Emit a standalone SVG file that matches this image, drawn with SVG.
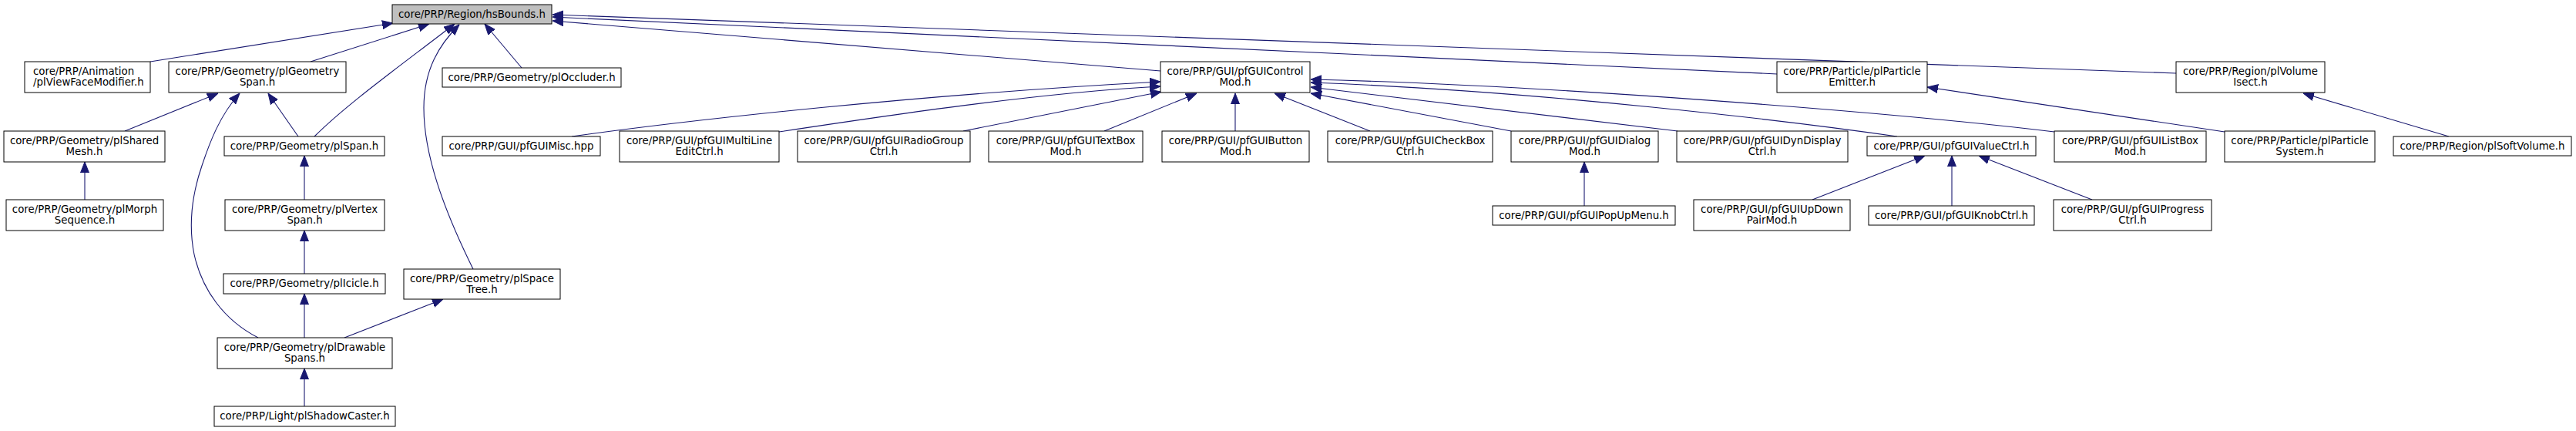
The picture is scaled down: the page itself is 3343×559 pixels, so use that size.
<svg xmlns="http://www.w3.org/2000/svg" width="3343" height="559" viewBox="0 0 3343 559">
<style>
.n rect{fill:#fff;stroke:#000;stroke-width:1}
.n text{font-family:"DejaVu Sans",sans-serif;font-size:13.33px;fill:#000;text-anchor:middle}
#root rect{fill:#bfbfbf}
.e path{fill:none;stroke:#191970;stroke-width:1.1;marker-end:url(#ah)}
</style>
<defs>
<marker id="ah" viewBox="0 0 14 12" refX="14" refY="6" markerWidth="14" markerHeight="12" markerUnits="userSpaceOnUse" orient="auto">
<path d="M0,0.5 L14,6 L0,11.5 Z" fill="#191970" stroke="#191970" stroke-width="1"/>
</marker>
</defs>
<rect width="3343" height="559" fill="#fff"/>
<g class="e" id="edges">
<path d="M195,80 L510,30"/>
<path d="M403,80 L557,31"/>
<path d="M408,177 C450,135 520,85 590,31"/>
<path d="M614,349 C575,270 550,200 550,140 C550,90 570,58 596,32"/>
<path d="M677,88 L629,31"/>
<path d="M1506,92 L717,27"/>
<path d="M2306,96 L717,22"/>
<path d="M2824,95 L717,19"/>
<path d="M742,177 C900,155 1200,122 1506,106"/>
<path d="M1011,171 C1150,150 1350,120 1506,112"/>
<path d="M1250,170 L1507,119"/>
<path d="M1433,170 L1553,121"/>
<path d="M1603,170 L1603,121"/>
<path d="M1778,170 L1654,121"/>
<path d="M1961,170 L1701,121"/>
<path d="M2177,170 L1701,113"/>
<path d="M2462,177 C2330,158 2000,118 1701,107"/>
<path d="M2666,171 C2450,145 2000,110 1701,103"/>
<path d="M2887,171 L2501,113"/>
<path d="M3178,177 L2989,121"/>
<path d="M162,170 L283,121"/>
<path d="M335,438 C290,415 262,375 252,330 C244,290 250,250 262,215 C272,185 285,150 311,121"/>
<path d="M387,177 L348,121"/>
<path d="M395,259 L395,202"/>
<path d="M395,355 L395,299"/>
<path d="M395,438 L395,381"/>
<path d="M395,527 L395,478"/>
<path d="M447,438 L575,388"/>
<path d="M110,259 L110,210"/>
<path d="M2056,267 L2056,210"/>
<path d="M2352,259 L2498,202"/>
<path d="M2533,267 L2533,202"/>
<path d="M2715,259 L2568,202"/>
</g>
<g class="n" id="root"><rect x="509" y="6" width="207" height="25"/><text x="612.5" y="22.5">core/PRP/Region/hsBounds.h</text></g>
<g class="n" id="animation"><rect x="32" y="80" width="163" height="40"/><text x="43" y="96.7" style="text-anchor:start">core/PRP/Animation</text><text x="43" y="111.3" style="text-anchor:start">/plViewFaceModifier.h</text></g>
<g class="n" id="geomspan"><rect x="219" y="80" width="230" height="40"/><text x="334" y="96.7">core/PRP/Geometry/plGeometry</text><text x="334" y="111.3">Span.h</text></g>
<g class="n" id="occluder"><rect x="574" y="88" width="232" height="25"/><text x="690" y="104.5">core/PRP/Geometry/plOccluder.h</text></g>
<g class="n" id="guicontrol"><rect x="1506" y="80" width="194" height="40"/><text x="1603" y="96.7">core/PRP/GUI/pfGUIControl</text><text x="1603" y="111.3">Mod.h</text></g>
<g class="n" id="particleemitter"><rect x="2306" y="80" width="195" height="40"/><text x="2403.5" y="96.7">core/PRP/Particle/plParticle</text><text x="2403.5" y="111.3">Emitter.h</text></g>
<g class="n" id="volumeisect"><rect x="2824" y="80" width="193" height="40"/><text x="2920.5" y="96.7">core/PRP/Region/plVolume</text><text x="2920.5" y="111.3">Isect.h</text></g>
<g class="n" id="sharedmesh"><rect x="5" y="170" width="209" height="40"/><text x="109.5" y="186.7">core/PRP/Geometry/plShared</text><text x="109.5" y="201.3">Mesh.h</text></g>
<g class="n" id="plspan"><rect x="291" y="177" width="208" height="25"/><text x="395" y="193.5">core/PRP/Geometry/plSpan.h</text></g>
<g class="n" id="guimisc"><rect x="574" y="177" width="205" height="25"/><text x="676.5" y="193.5">core/PRP/GUI/pfGUIMisc.hpp</text></g>
<g class="n" id="multiline"><rect x="804" y="170" width="207" height="40"/><text x="907.5" y="186.7">core/PRP/GUI/pfGUIMultiLine</text><text x="907.5" y="201.3">EditCtrl.h</text></g>
<g class="n" id="radiogroup"><rect x="1035" y="170" width="224" height="40"/><text x="1147" y="186.7">core/PRP/GUI/pfGUIRadioGroup</text><text x="1147" y="201.3">Ctrl.h</text></g>
<g class="n" id="textbox"><rect x="1283" y="170" width="200" height="40"/><text x="1383" y="186.7">core/PRP/GUI/pfGUITextBox</text><text x="1383" y="201.3">Mod.h</text></g>
<g class="n" id="button"><rect x="1508" y="170" width="191" height="40"/><text x="1603.5" y="186.7">core/PRP/GUI/pfGUIButton</text><text x="1603.5" y="201.3">Mod.h</text></g>
<g class="n" id="checkbox"><rect x="1723" y="170" width="214" height="40"/><text x="1830" y="186.7">core/PRP/GUI/pfGUICheckBox</text><text x="1830" y="201.3">Ctrl.h</text></g>
<g class="n" id="dialog"><rect x="1961" y="170" width="191" height="40"/><text x="2056.5" y="186.7">core/PRP/GUI/pfGUIDialog</text><text x="2056.5" y="201.3">Mod.h</text></g>
<g class="n" id="dyndisplay"><rect x="2176" y="170" width="222" height="40"/><text x="2287" y="186.7">core/PRP/GUI/pfGUIDynDisplay</text><text x="2287" y="201.3">Ctrl.h</text></g>
<g class="n" id="valuectrl"><rect x="2423" y="177" width="219" height="25"/><text x="2532.5" y="193.5">core/PRP/GUI/pfGUIValueCtrl.h</text></g>
<g class="n" id="listbox"><rect x="2666" y="170" width="197" height="40"/><text x="2764.5" y="186.7">core/PRP/GUI/pfGUIListBox</text><text x="2764.5" y="201.3">Mod.h</text></g>
<g class="n" id="particlesystem"><rect x="2887" y="170" width="195" height="40"/><text x="2984.5" y="186.7">core/PRP/Particle/plParticle</text><text x="2984.5" y="201.3">System.h</text></g>
<g class="n" id="softvolume"><rect x="3106" y="177" width="231" height="25"/><text x="3221.5" y="193.5">core/PRP/Region/plSoftVolume.h</text></g>
<g class="n" id="morph"><rect x="8" y="259" width="204" height="40"/><text x="110" y="275.7">core/PRP/Geometry/plMorph</text><text x="110" y="290.3">Sequence.h</text></g>
<g class="n" id="vertexspan"><rect x="292" y="259" width="207" height="40"/><text x="395.5" y="275.7">core/PRP/Geometry/plVertex</text><text x="395.5" y="290.3">Span.h</text></g>
<g class="n" id="popup"><rect x="1937" y="267" width="237" height="25"/><text x="2055.5" y="283.5">core/PRP/GUI/pfGUIPopUpMenu.h</text></g>
<g class="n" id="updown"><rect x="2198" y="259" width="203" height="40"/><text x="2299.5" y="275.7">core/PRP/GUI/pfGUIUpDown</text><text x="2299.5" y="290.3">PairMod.h</text></g>
<g class="n" id="knob"><rect x="2425" y="267" width="215" height="25"/><text x="2532.5" y="283.5">core/PRP/GUI/pfGUIKnobCtrl.h</text></g>
<g class="n" id="progress"><rect x="2665" y="259" width="205" height="40"/><text x="2767.5" y="275.7">core/PRP/GUI/pfGUIProgress</text><text x="2767.5" y="290.3">Ctrl.h</text></g>
<g class="n" id="icicle"><rect x="290" y="355" width="210" height="26"/><text x="395" y="372">core/PRP/Geometry/plIcicle.h</text></g>
<g class="n" id="spacetree"><rect x="524" y="349" width="203" height="39"/><text x="625.5" y="365.7">core/PRP/Geometry/plSpace</text><text x="625.5" y="380.3">Tree.h</text></g>
<g class="n" id="drawable"><rect x="282" y="438" width="227" height="40"/><text x="395.5" y="454.7">core/PRP/Geometry/plDrawable</text><text x="395.5" y="469.3">Spans.h</text></g>
<g class="n" id="shadowcaster"><rect x="278" y="527" width="235" height="26"/><text x="395.5" y="544">core/PRP/Light/plShadowCaster.h</text></g>
</svg>
